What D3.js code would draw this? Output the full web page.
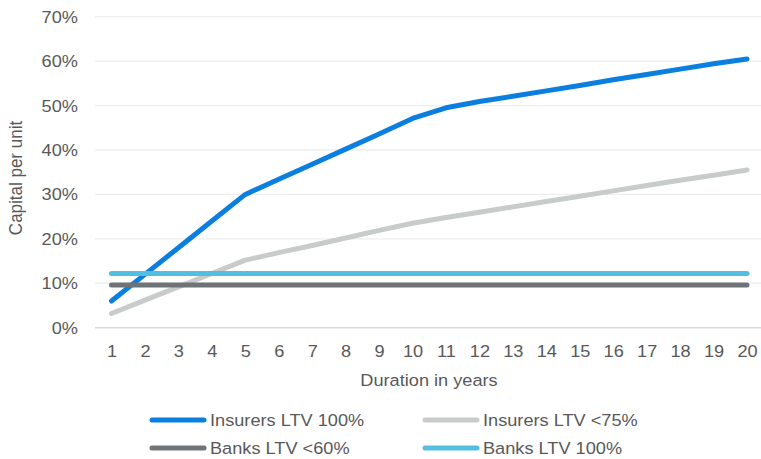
<!DOCTYPE html>
<html>
<head>
<meta charset="utf-8">
<script src="https://cdnjs.cloudflare.com/ajax/libs/d3/7.8.5/d3.min.js"></script>
<style>
  html, body { margin: 0; padding: 0; background: #ffffff; }
  svg { display: block; }
  text { font-family: "Liberation Sans", Arial, sans-serif; fill: #595959; }
</style>
</head>
<body>
<svg id="chart" width="761" height="459"></svg>
<script>
// Duration buckets (years)
const years = [1, 2, 3, 4, 5, 6, 7, 8, 9, 10, 11, 12, 13, 14, 15, 16, 17, 18, 19, 20];

// Capital per unit, in percent
const insurersLtv100 = [6, 12, 18, 24, 30, 33.4, 36.8, 40.2, 43.6, 47.1, 49.5, 50.9, 52.1, 53.3, 54.5, 55.8, 57.0, 58.2, 59.4, 60.5];
const insurersLtv75  = [3.2, 6.2, 9.2, 12.2, 15.2, 16.9, 18.5, 20.2, 21.9, 23.5, 24.8, 26.0, 27.2, 28.4, 29.6, 30.8, 32.0, 33.2, 34.3, 35.5];
const banksLtv60     = [9.6, 9.6, 9.6, 9.6, 9.6, 9.6, 9.6, 9.6, 9.6, 9.6, 9.6, 9.6, 9.6, 9.6, 9.6, 9.6, 9.6, 9.6, 9.6, 9.6];
const banksLtv100    = [12.2, 12.2, 12.2, 12.2, 12.2, 12.2, 12.2, 12.2, 12.2, 12.2, 12.2, 12.2, 12.2, 12.2, 12.2, 12.2, 12.2, 12.2, 12.2, 12.2];

const yTicks = [0, 10, 20, 30, 40, 50, 60, 70];

const seriesNames  = ["Insurers LTV 100%", "Insurers LTV <75%", "Banks LTV <60%", "Banks LTV 100%"];
const seriesValues = [insurersLtv100, insurersLtv75, banksLtv60, banksLtv100];
const seriesColors = ["#0a7fe0", "#c8cbcb", "#6e7377", "#52bee1"];

const svg = d3.select("#chart");
const fontSize = 17;
const stretch = "scale(1.07,1)";

const x = d3.scalePoint().domain(years).range([111.5, 747]);
const y = d3.scaleLinear().domain([0, 70]).range([327.7, 16.7]);

// Horizontal gridlines
svg.append("g")
  .selectAll("line")
  .data(yTicks.filter(d => d !== 0))
  .join("line")
  .attr("x1", 95).attr("x2", 761)
  .attr("y1", d => y(d)).attr("y2", d => y(d))
  .attr("stroke", "#eeeeee").attr("stroke-width", 1.3);

// Baseline
svg.append("line")
  .attr("x1", 95).attr("x2", 761)
  .attr("y1", y(0)).attr("y2", y(0))
  .attr("stroke", "#d9d9d9").attr("stroke-width", 1.5);

// Y axis labels
const yAxis = svg.append("g")
  .attr("transform", "translate(78,0)")
  .call(d3.axisLeft(y).tickValues(yTicks).tickFormat(d => d + "%").tickSize(0).tickPadding(0));
yAxis.select(".domain").remove();
yAxis.selectAll("text")
  .attr("font-size", fontSize)
  .attr("font-family", "Liberation Sans, Arial, sans-serif")
  .attr("fill", "#595959")
  .attr("transform", stretch);

// X axis labels
const xAxis = svg.append("g")
  .attr("transform", "translate(0,345)")
  .call(d3.axisBottom(x).tickSize(0).tickPadding(0));
xAxis.select(".domain").remove();
xAxis.selectAll("text")
  .attr("font-size", fontSize)
  .attr("font-family", "Liberation Sans, Arial, sans-serif")
  .attr("fill", "#595959")
  .attr("transform", stretch);

// Axis titles
svg.append("text")
  .attr("transform", "translate(429,386) " + stretch)
  .attr("text-anchor", "middle")
  .attr("font-size", fontSize)
  .text("Duration in years");

svg.append("text")
  .attr("transform", "translate(22,178) rotate(-90) scale(1,1.07)")
  .attr("text-anchor", "middle")
  .attr("font-size", fontSize)
  .text("Capital per unit");

// Series lines
const line = d3.line()
  .x((d, i) => x(years[i]))
  .y(d => y(d));

svg.append("g")
  .selectAll("path")
  .data(seriesValues)
  .join("path")
  .attr("d", d => line(d))
  .attr("fill", "none")
  .attr("stroke", (d, i) => seriesColors[i])
  .attr("stroke-width", 5)
  .attr("stroke-linecap", "round")
  .attr("stroke-linejoin", "round");

// Legend: two columns, two rows
const legendPos = [[150, 420], [423, 420], [150, 448], [423, 448]];
const legend = svg.append("g")
  .selectAll("g")
  .data(seriesNames)
  .join("g")
  .attr("transform", (d, i) => `translate(${legendPos[i][0]},${legendPos[i][1]})`);

legend.append("line")
  .attr("x1", 2).attr("x2", 54)
  .attr("y1", 0).attr("y2", 0)
  .attr("stroke", (d, i) => seriesColors[i])
  .attr("stroke-width", 5)
  .attr("stroke-linecap", "round");

legend.append("text")
  .attr("transform", "translate(60,6) " + stretch)
  .attr("font-size", fontSize)
  .text(d => d);
</script>
</body>
</html>
